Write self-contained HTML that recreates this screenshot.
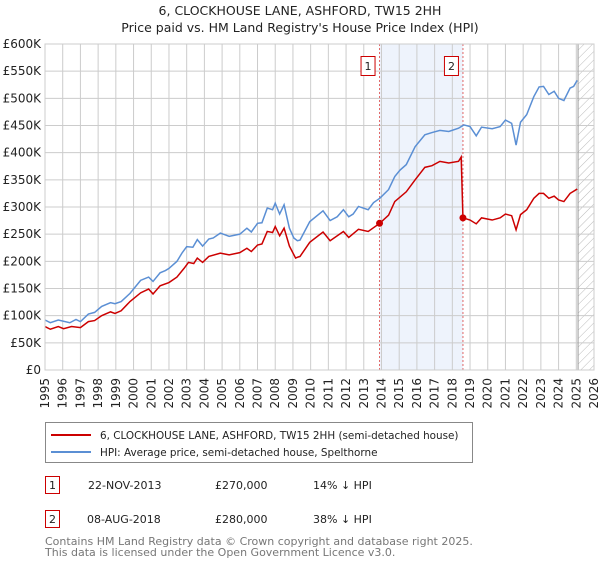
<!DOCTYPE html>
<html><head><meta charset="utf-8"><style>
body{margin:0;background:#fff;font-family:"Liberation Sans","DejaVu Sans",sans-serif;}
svg text{font-family:"DejaVu Sans","Liberation Sans",sans-serif;}
</style></head><body>
<svg id="chart" width="600" height="560" viewBox="0 0 600 560" xmlns="http://www.w3.org/2000/svg">
<defs><pattern id="hatch" patternUnits="userSpaceOnUse" width="6" height="6" patternTransform="rotate(45)"><line x1="0" y1="0" x2="0" y2="6" stroke="#bbb" stroke-width="1"/></pattern></defs>
<text x="300" y="15" text-anchor="middle" font-size="12.5" fill="#222">6, CLOCKHOUSE LANE, ASHFORD, TW15 2HH</text>
<text x="300" y="32" text-anchor="middle" font-size="12.5" fill="#222">Price paid vs. HM Land Registry's House Price Index (HPI)</text>
<g id="grid"></g><g id="marks"></g><g id="axes"></g>
<rect x="45.5" y="422.5" width="427" height="40" fill="#fff" stroke="#888"/>
<line x1="51" y1="435" x2="91" y2="435" stroke="#cc0000" stroke-width="2"/>
<text x="100" y="439" font-size="10.4" fill="#222">6, CLOCKHOUSE LANE, ASHFORD, TW15 2HH (semi-detached house)</text>
<line x1="51" y1="452" x2="91" y2="452" stroke="#5b8fd4" stroke-width="2"/>
<text x="100" y="456" font-size="10.4" fill="#222">HPI: Average price, semi-detached house, Spelthorne</text>
<g font-size="11" fill="#222">
<rect x="45.5" y="476.5" width="14" height="17" fill="#fff" stroke="#cc0000"/><text x="52.5" y="489" text-anchor="middle">1</text>
<text x="88" y="489">22-NOV-2013</text><text x="215" y="489">£270,000</text><text x="313" y="489">14% ↓ HPI</text></g>
<g font-size="11" fill="#222">
<rect x="45.5" y="510.5" width="14" height="17" fill="#fff" stroke="#cc0000"/><text x="52.5" y="523" text-anchor="middle">2</text>
<text x="87" y="523">08-AUG-2018</text><text x="215" y="523">£280,000</text><text x="313" y="523">38% ↓ HPI</text></g>
<text x="45" y="545" font-size="11" fill="#777">Contains HM Land Registry data © Crown copyright and database right 2025.</text>
<text x="45" y="556" font-size="11" fill="#777">This data is licensed under the Open Government Licence v3.0.</text>
</svg>
<script>
const hpiYears=[1995,1995.3,1995.75,1996.4,1996.75,1997,1997.45,1997.8,1998.2,1998.7,1998.95,1999.3,1999.8,2000.4,2000.85,2001.1,2001.5,2001.8,2002,2002.45,2002.75,2003,2003.35,2003.6,2003.9,2004.25,2004.5,2004.9,2005.4,2006,2006.4,2006.65,2007,2007.25,2007.55,2007.85,2008,2008.25,2008.5,2008.8,2009.05,2009.25,2009.4,2009.95,2010.7,2011.1,2011.5,2011.85,2012.15,2012.4,2012.7,2013.25,2013.55,2013.9,2014.4,2014.75,2015.05,2015.4,2015.9,2016.45,2016.85,2017.3,2017.8,2018.35,2018.65,2019,2019.35,2019.65,2020.25,2020.7,2021,2021.35,2021.6,2021.85,2022.2,2022.6,2022.9,2023.15,2023.45,2023.75,2024,2024.3,2024.65,2024.85,2025.05];
const hpiValues=[92,87,92,87,93,89,103,106,117,124,122,126,141,165,171,163,179,183,187,200,216,227,226,240,228,241,243,252,246,250,261,254,270,271,298,295,307,287,304,261,243,238,239,273,293,275,282,295,282,287,301,295,308,316,332,356,368,378,411,433,437,441,439,445,451,448,431,447,444,448,460,454,414,456,470,503,521,522,507,513,500,496,519,522,533];
const priceYears=[1995,1995.3,1995.75,1996.05,1996.5,1997,1997.45,1997.8,1998.2,1998.7,1998.95,1999.3,1999.8,2000.4,2000.85,2001.1,2001.5,2002,2002.45,2002.85,2003.1,2003.4,2003.6,2003.9,2004.25,2004.9,2005.4,2006,2006.4,2006.65,2007,2007.25,2007.55,2007.85,2008,2008.25,2008.5,2008.8,2009.15,2009.3,2009.4,2009.95,2010.7,2011.1,2011.85,2012.15,2012.7,2013.25,2013.9,2014.4,2014.75,2015.4,2015.9,2016.45,2016.85,2017.3,2017.8,2018.35,2018.5,2018.6,2019,2019.35,2019.65,2020.25,2020.7,2021,2021.35,2021.6,2021.85,2022.2,2022.6,2022.9,2023.15,2023.45,2023.75,2024,2024.3,2024.65,2025.05];
const priceValues=[80,75,80,76,80,78,89,91,100,107,104,109,126,142,149,140,155,161,171,187,198,196,206,198,209,215,212,216,224,218,230,232,255,253,264,247,261,228,206,208,209,235,254,238,255,244,259,255,270,285,310,328,350,373,376,384,381,384,392,280,276,269,280,276,280,287,284,258,286,295,316,325,325,316,320,313,310,325,333];
const saleYears=[2013.89,2018.6];
const saleValues=[270,280];
const saleLabels=["1","2"];
const yTicks=[0,50,100,150,200,250,300,350,400,450,500,550,600];
const yTickLabels=["£0","£50K","£100K","£150K","£200K","£250K","£300K","£350K","£400K","£450K","£500K","£550K","£600K"];
const xTicks=[1995,1996,1997,1998,1999,2000,2001,2002,2003,2004,2005,2006,2007,2008,2009,2010,2011,2012,2013,2014,2015,2016,2017,2018,2019,2020,2021,2022,2023,2024,2025,2026];
const X0=45,X1=594,Y0=370,Y1=44;
const x=v=>X0+(v-1995)/31*(X1-X0);
const y=v=>Y0-v/600*(Y0-Y1);
const NS="http://www.w3.org/2000/svg";
function mk(tag,parent,attrs){const e=document.createElementNS(NS,tag);for(const k in attrs)e.setAttribute(k,attrs[k]);parent.appendChild(e);return e;}
const grid=document.getElementById('grid'),marks=document.getElementById('marks'),axes=document.getElementById('axes');
const shade=mk('rect',grid,{x:x(saleYears[0]),y:Y1,width:x(saleYears[1])-x(saleYears[0]),height:Y0-Y1,fill:'#eef3fc'});


const hatch=mk('rect',grid,{x:x(2025.1),y:Y1,width:X1-x(2025.1),height:Y0-Y1,fill:'url(#hatch)'});


yTicks.forEach((t,i)=>{
 const l=mk('line',grid,{x1:X0,x2:X1,y1:y(t),y2:y(t),stroke:'#ccc','stroke-width':1});
 
 
 const tx=mk('text',axes,{x:X0-4,y:y(t)+4,'text-anchor':'end','font-size':12,fill:'#222'});
 tx.textContent=yTickLabels[i];
 
 
});
xTicks.forEach(t=>{
 const l=mk('line',grid,{x1:x(t),x2:x(t),y1:Y1,y2:Y0,stroke:'#ccc','stroke-width':1});
 
 
 const tx=mk('text',axes,{x:0,y:0,'text-anchor':'end','font-size':12,fill:'#222',transform:`translate(${x(t)+4},378) rotate(-90)`});
 tx.textContent=t;
 
 
});
const endLine=mk('line',grid,{x1:x(2025.1),x2:x(2025.1),y1:Y1,y2:Y0,stroke:'#999','stroke-width':1});


saleYears.forEach((s,i)=>{
 const l=mk('line',grid,{x1:x(s),x2:x(s),y1:Y1,y2:Y0,stroke:'#e06666','stroke-width':1,'stroke-dasharray':'2,2'});
 
 
 const g=mk('g',axes,{});
 
 
 mk('rect',g,{x:x(s)-18.5,y:56.5,width:14,height:19,fill:'#fff',stroke:'#cc0000'});
 const t=mk('text',g,{x:x(s)-11.5,y:70,'text-anchor':'middle','font-size':11,fill:'#222'});t.textContent=saleLabels[i];
});
const hp=mk('polyline',marks,{points:hpiYears.map((v,i)=>x(v)+','+y(hpiValues[i])).join(' '),fill:'none',stroke:'#5b8fd4','stroke-width':1.5});


const pp=mk('polyline',marks,{points:priceYears.map((v,i)=>x(v)+','+y(priceValues[i])).join(' '),fill:'none',stroke:'#cc0000','stroke-width':1.5});


saleYears.forEach((s,i)=>{
 const c=mk('circle',marks,{cx:x(s),cy:y(saleValues[i]),r:3.5,fill:'#cc0000'});
 
 
});
const frame=mk('rect',axes,{x:X0,y:Y1,width:X1-X0,height:Y0-Y1,fill:'none',stroke:'#ccc'});


</script>
</body></html>
